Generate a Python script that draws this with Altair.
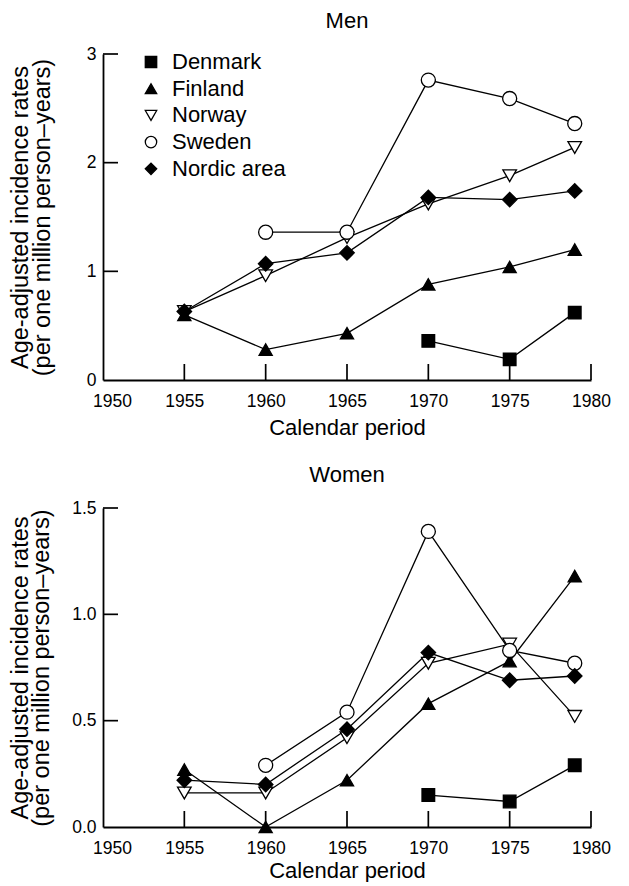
import altair as alt
import pandas as pd

years = [1955, 1960, 1965, 1970, 1975, 1979]
countries = ["Denmark", "Finland", "Norway", "Sweden", "Nordic area"]
shapes = ["square", "triangle-up", "triangle-down", "circle", "diamond"]
fills = ["black", "black", "white", "white", "black"]
sizes = [160, 210, 210, 180, 215]
widths = [1.3, 1.3, 1.3, 1.3, 2.8]

men_denmark = [None, None, None, 0.36, 0.19, 0.62]
men_finland = [0.60, 0.28, 0.43, 0.88, 1.04, 1.20]
men_norway = [0.63, 0.96, 1.31, 1.62, 1.88, 2.14]
men_sweden = [None, 1.36, 1.36, 2.76, 2.59, 2.36]
men_nordic = [0.63, 1.07, 1.17, 1.68, 1.66, 1.74]

women_denmark = [None, None, None, 0.15, 0.12, 0.29]
women_finland = [0.27, 0.0, 0.22, 0.58, 0.78, 1.18]
women_norway = [0.16, 0.16, 0.42, 0.77, 0.86, 0.52]
women_sweden = [None, 0.29, 0.54, 1.39, 0.83, 0.77]
women_nordic = [0.22, 0.20, 0.46, 0.82, 0.69, 0.71]

x_ticks = [1950, 1955, 1960, 1965, 1970, 1975, 1980]
x_inner_ticks = [1955, 1960, 1965, 1970, 1975, 1980]
men_y_ticks = [0, 1, 2, 3]
women_y_ticks = [0, 0.5, 1.0, 1.5]

y_title = ["Age-adjusted incidence rates", "(per one million person\u2013years)"]
FONT = "Liberation Sans"


def to_df(series):
    rows = []
    for name, vals in zip(countries, series):
        for yr, v in zip(years, vals):
            if v is not None:
                rows.append({"year": yr, "rate": v, "country": name})
    return pd.DataFrame(rows)


def panel(series, title, ymax, yticks, yfmt, h, y_title_pad, x_title_pad, legend):
    df = to_df(series)
    x_enc = alt.X(
        "year:Q",
        scale=alt.Scale(domain=[1950, 1980], nice=False, zero=False),
        axis=alt.Axis(
            values=x_ticks,
            format="d",
            title="Calendar period",
            titlePadding=x_title_pad,
            labelFlush=False,
            labelOffset=alt.ExprRef("datum.value == 1950 ? 9 : 0"),
        ),
    )
    y_enc = alt.Y(
        "rate:Q",
        scale=alt.Scale(domain=[0, ymax], nice=False),
        axis=alt.Axis(values=yticks, format=yfmt, title=y_title, titlePadding=y_title_pad),
    )
    base = alt.Chart(df)
    lines = base.mark_line(color="black").encode(
        x=x_enc,
        y=y_enc,
        detail="country:N",
        strokeWidth=alt.StrokeWidth(
            "country:N", scale=alt.Scale(domain=countries, range=widths), legend=None
        ),
    )
    pts = base.mark_point(filled=True, strokeWidth=1.3, opacity=1).encode(
        x=x_enc,
        y=y_enc,
        shape=alt.Shape(
            "country:N", scale=alt.Scale(domain=countries, range=shapes), legend=legend
        ),
        fill=alt.Fill(
            "country:N", scale=alt.Scale(domain=countries, range=fills), legend=legend
        ),
        stroke=alt.Stroke(
            "country:N", scale=alt.Scale(domain=countries, range=["black"] * 5), legend=legend
        ),
        size=alt.Size(
            "country:N", scale=alt.Scale(domain=countries, range=sizes), legend=None
        ),
    )
    xt = alt.Chart(pd.DataFrame({"year": x_inner_ticks})).mark_rule(
        color="black", strokeWidth=1.7
    ).encode(x=x_enc, y=alt.value(h), y2=alt.value(h - 16))
    yt = alt.Chart(pd.DataFrame({"rate": [v for v in yticks if v > 0]})).mark_rule(
        color="black", strokeWidth=1.7
    ).encode(y=y_enc, x=alt.value(0), x2=alt.value(15))
    return alt.layer(xt, yt, lines, pts).properties(
        width=488,
        height=h,
        title=alt.TitleParams(
            title, fontSize=22, fontWeight="normal", font=FONT, color="black",
            frame="group", offset=12,
        ),
    )


leg = alt.Legend(
    title=None,
    orient="none",
    legendX=37,
    legendY=-3,
    labelFontSize=22,
    labelFont=FONT,
    labelColor="black",
    symbolSize=130,
    symbolStrokeWidth=1.3,
    rowPadding=4.7,
    labelOffset=10,
    padding=0,
)

top = panel(
    [men_denmark, men_finland, men_norway, men_sweden, men_nordic],
    "Men", 3, men_y_ticks, "d", 326, 32, 8, leg,
)
bottom = panel(
    [women_denmark, women_finland, women_norway, women_sweden, women_nordic],
    "Women", 1.5, women_y_ticks, ".1f", 319, 18, 4, None,
)

chart = (
    alt.vconcat(top, bottom, spacing=25)
    .resolve_legend(shape="independent", fill="independent", stroke="independent")
    .properties(padding={"left": 0, "top": 2, "right": 5, "bottom": 0})
    .configure_view(stroke=None)
    .configure_axis(
        grid=False,
        ticks=False,
        tickSize=0,
        domainColor="black",
        domainWidth=1.8,
        labelColor="black",
        labelFont=FONT,
        labelFontSize=17.5,
        labelPadding=7,
        titleColor="black",
        titleFont=FONT,
        titleFontSize=22,
        titleFontWeight="normal",
    )
    .configure_axisY(titleFontSize=23.5, titleLineHeight=21.5)
    .configure_axisX(labelPadding=12)
)

chart.save("out.html", embed_options={"renderer": "svg", "actions": False})
